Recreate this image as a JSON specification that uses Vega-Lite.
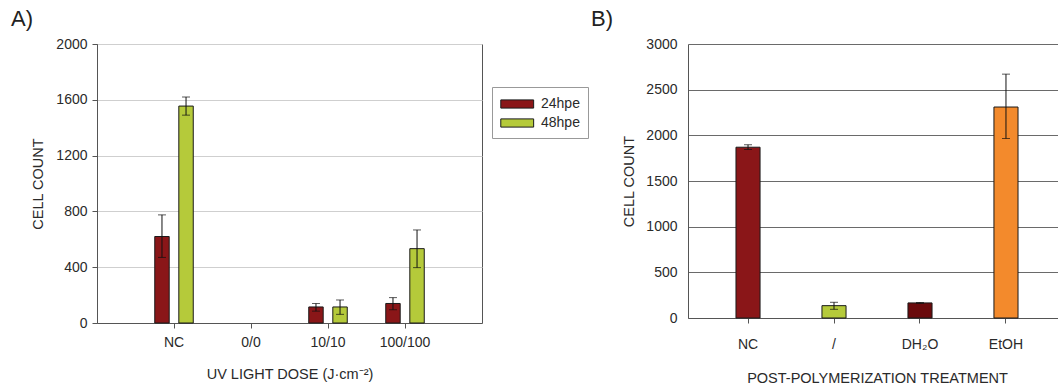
{
  "$schema": "https://vega.github.io/schema/vega-lite/v6.json",
  "padding": {"left": 10, "top": 7, "right": 0, "bottom": 0},
  "background": "white",
  "spacing": 2,
  "resolve": {"scale": {"color": "independent", "x": "independent", "y": "independent"}},
  "config": {
    "font": "Liberation Sans",
    "view": {"stroke": null},
    "axis": {
      "labelFont": "Liberation Sans", "labelFontSize": 14, "labelColor": "#2a2a2a",
      "titleFont": "Liberation Sans", "titleFontSize": 14.5, "titleFontWeight": "normal", "titleColor": "#2a2a2a",
      "domainColor": "#555", "tickColor": "#555", "tickSize": 5
    },
    "title": {"font": "Liberation Sans", "fontSize": 22, "fontWeight": "normal", "color": "#222", "anchor": "start", "frame": "group"}
  },
  "datasets": {
    "uv": [
      {"dose": "NC", "series": "24hpe", "count": 620, "lo": 470, "hi": 775},
      {"dose": "NC", "series": "48hpe", "count": 1555, "lo": 1490, "hi": 1620},
      {"dose": "10/10", "series": "24hpe", "count": 115, "lo": 85, "hi": 140},
      {"dose": "10/10", "series": "48hpe", "count": 115, "lo": 62, "hi": 165},
      {"dose": "100/100", "series": "24hpe", "count": 140, "lo": 95, "hi": 182},
      {"dose": "100/100", "series": "48hpe", "count": 533, "lo": 397, "hi": 667}
    ],
    "treat": [
      {"treatment": "NC", "count": 1870, "lo": 1845, "hi": 1897},
      {"treatment": "/", "count": 135, "lo": 95, "hi": 172},
      {"treatment": "DH₂O", "count": 165, "lo": 160, "hi": 170},
      {"treatment": "EtOH", "count": 2310, "lo": 1965, "hi": 2670}
    ]
  },
  "hconcat": [
    {
      "width": 385,
      "height": 279,
      "title": {"text": "A)", "dx": -86, "offset": 6},
      "data": {"name": "uv"},
      "view": {"stroke": "#555", "strokeWidth": 1},
      "encoding": {
        "x": {
          "field": "dose", "type": "nominal", "sort": null,
          "scale": {"domain": ["NC", "0/0", "10/10", "100/100"], "paddingInner": 0.5, "paddingOuter": 0.75},
          "axis": {"title": "UV LIGHT DOSE (J·cm⁻²)", "labelAngle": 0, "labelPadding": 7, "titlePadding": 18, "grid": false}
        },
        "xOffset": {"field": "series", "type": "nominal", "scale": {"domain": ["24hpe", "48hpe"], "paddingInner": 0.4, "paddingOuter": 0}}
      },
      "layer": [
        {
          "mark": {"type": "bar", "stroke": "#1a1a1a", "strokeWidth": 1},
          "encoding": {
            "y": {
              "field": "count", "type": "quantitative",
              "scale": {"domain": [0, 2000], "nice": false},
              "axis": {"title": "CELL COUNT", "format": "d", "values": [0, 400, 800, 1200, 1600, 2000], "grid": true, "gridColor": "#cfcfcf", "labelPadding": 5, "titlePadding": 10}
            },
            "color": {
              "field": "series", "type": "nominal",
              "scale": {"domain": ["24hpe", "48hpe"], "range": ["#8a1618", "#b5ca3a"]},
              "legend": {
                "title": null, "orient": "none", "legendX": 395, "legendY": 43,
                "strokeColor": "#999", "padding": 8,
                "symbolType": "M-1,-0.5L3,-0.5L3,0.5L-1,0.5Z", "symbolSize": 270,
                "symbolStrokeColor": "#1a1a1a", "symbolStrokeWidth": 1, "symbolOpacity": 1,
                "labelFont": "Liberation Sans", "labelFontSize": 14, "labelColor": "#2a2a2a",
                "rowPadding": 3, "labelOffset": 23
              }
            }
          }
        },
        {
          "mark": {"type": "rule", "color": "#111", "strokeWidth": 1},
          "encoding": {"y": {"field": "lo", "type": "quantitative"}, "y2": {"field": "hi"}}
        },
        {
          "mark": {"type": "tick", "color": "#111", "thickness": 1, "size": 8},
          "encoding": {"y": {"field": "hi", "type": "quantitative"}}
        },
        {
          "mark": {"type": "tick", "color": "#111", "thickness": 1, "size": 8},
          "encoding": {"y": {"field": "lo", "type": "quantitative"}}
        }
      ]
    },
    {
      "width": 378,
      "height": 274,
      "title": {"text": "B)", "dx": -97, "offset": 6},
      "data": {"name": "treat"},
      "encoding": {
        "x": {
          "field": "treatment", "type": "nominal", "sort": null,
          "scale": {"domain": ["NC", "/", "DH₂O", "EtOH"], "paddingInner": 0.72, "paddingOuter": 0.558},
          "axis": {"title": "POST-POLYMERIZATION TREATMENT", "labelAngle": 0, "labelPadding": 14, "titlePadding": 20, "grid": false}
        }
      },
      "layer": [
        {
          "mark": {"type": "bar", "stroke": "#1a1a1a", "strokeWidth": 1},
          "encoding": {
            "y": {
              "field": "count", "type": "quantitative",
              "scale": {"domain": [0, 3000], "nice": false},
              "axis": {"title": "CELL COUNT", "format": "d", "values": [0, 500, 1000, 1500, 2000, 2500, 3000], "grid": true, "gridColor": "#6a6a6a", "ticks": false, "labelPadding": 11, "titlePadding": 9}
            },
            "color": {
              "field": "treatment", "type": "nominal",
              "scale": {"domain": ["NC", "/", "DH₂O", "EtOH"], "range": ["#8a1618", "#b5ca3a", "#6a0a0c", "#f38a2c"]},
              "legend": null
            }
          }
        },
        {
          "mark": {"type": "rule", "color": "#111", "strokeWidth": 1},
          "encoding": {"y": {"field": "lo", "type": "quantitative"}, "y2": {"field": "hi"}}
        },
        {
          "mark": {"type": "tick", "color": "#111", "thickness": 1, "size": 8},
          "encoding": {"y": {"field": "hi", "type": "quantitative"}}
        },
        {
          "mark": {"type": "tick", "color": "#111", "thickness": 1, "size": 8},
          "encoding": {"y": {"field": "lo", "type": "quantitative"}}
        }
      ]
    }
  ]
}
